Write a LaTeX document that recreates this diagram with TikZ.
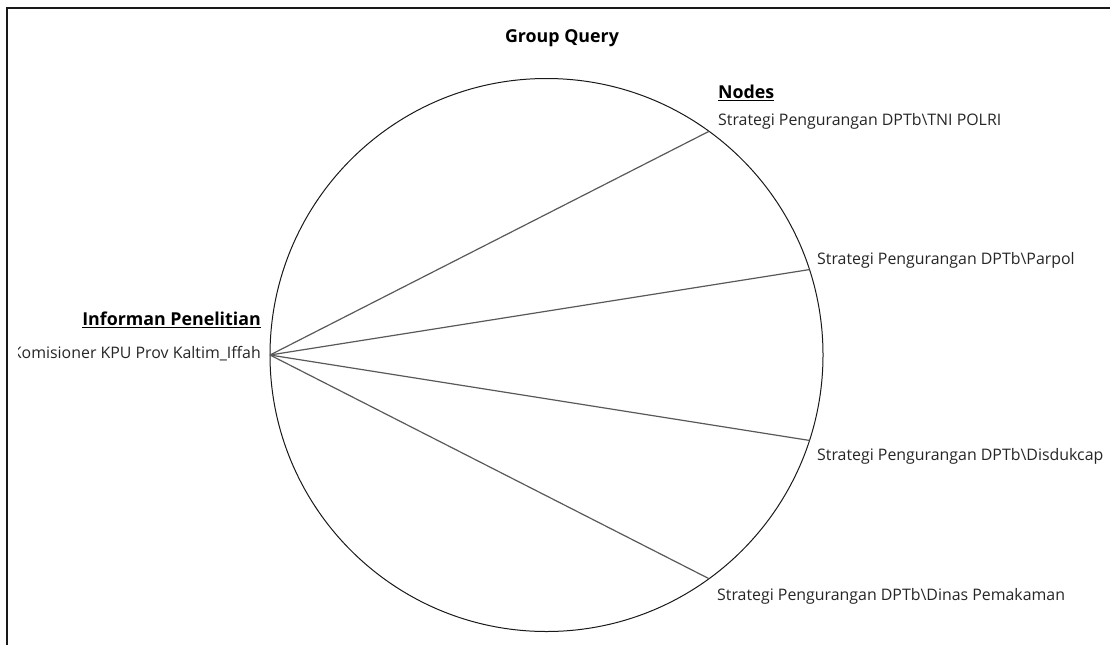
\documentclass[tikz,border=0pt]{standalone}
\usepackage{fontspec}
\setmainfont{Open Sans}
\begin{document}
\begin{tikzpicture}[x=1pt,y=-1pt,
  lbl/.style={inner sep=0pt, font=\fontsize{15.9}{18}\selectfont, text=black!85},
  head/.style={inner sep=0pt, font=\fontsize{17.8}{20}\selectfont\bfseries},
  spoke/.style={draw=black!65, line width=1.2pt},
  frameline/.style={draw=black!90, line width=2pt}]
\useasboundingbox (0,0) rectangle (1110,645);
% window frame (left and top edges)
\draw[frameline] (7,645) -- (7,8) -- (1110,8);
% title
\node[head] (title) at (562,38) {Group Query};
% ring of nodes
\node[draw=black!90, line width=1pt, circle, minimum size=553pt, inner sep=0pt, outer sep=0pt] (ring) at (546.5,355) {};
\coordinate (hub) at (ring.180);
\coordinate (pTNI) at (ring.54);
\coordinate (pParpol) at (ring.18);
\coordinate (pDisduk) at (ring.-18);
\coordinate (pDinas) at (ring.-54);
\foreach \p in {pTNI,pParpol,pDisduk,pDinas}
  \draw[spoke] (hub) -- (\p);
% labels on the right
\node[head, anchor=west] (nodes) at (718,93) {\underline{Nodes}};
\node[lbl, anchor=west] (lTNI) at (718,121) {Strategi Pengurangan DPTb\textbackslash TNI POLRI};
\node[lbl, anchor=west] (lParpol) at (817,260) {Strategi Pengurangan DPTb\textbackslash Parpol};
\node[lbl, anchor=west] (lDisduk) at (817,456) {Strategi Pengurangan DPTb\textbackslash Disdukcap};
\node[lbl, anchor=west] (lDinas) at (717,596) {Strategi Pengurangan DPTb\textbackslash Dinas Pemakaman};
% labels on the left; the long name runs past the view's edge
\node[head, anchor=east] (inf) at (261,320) {\underline{Informan Penelitian}};
\begin{scope}
  \clip (18.5,330) rectangle (270,380);
  \node[lbl, anchor=east] (kom) at (261,354) {Komisioner KPU Prov Kaltim\_Iffah};
\end{scope}
\end{tikzpicture}
\end{document}
